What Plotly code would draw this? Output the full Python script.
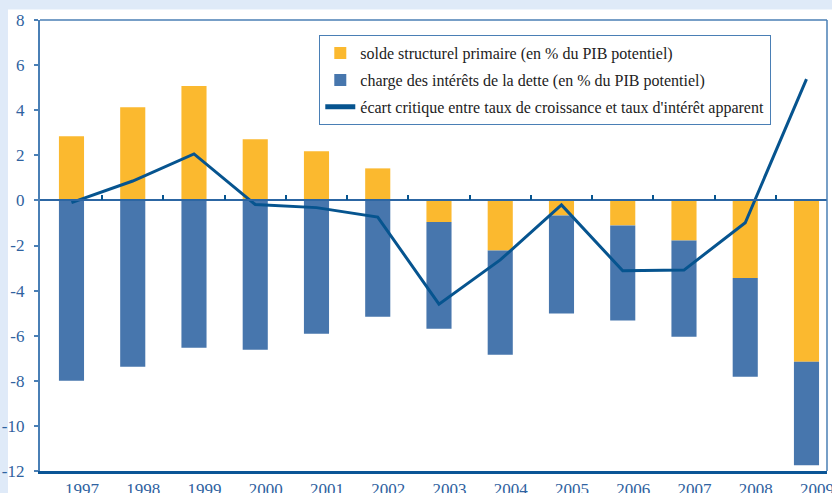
import plotly.graph_objects as go

years = [1997, 1998, 1999, 2000, 2001, 2002, 2003, 2004, 2005, 2006, 2007, 2008, 2009]
solde_structurel = [2.84, 4.13, 5.07, 2.71, 2.18, 1.42, -0.96, -2.22, -0.67, -1.11, -1.78, -3.44, -7.16]
charge_interets = [-8.00, -7.38, -6.53, -6.62, -5.91, -5.16, -4.73, -4.62, -4.34, -4.22, -4.27, -4.38, -4.58]
ecart_critique = [-0.10, 0.86, 2.06, -0.18, -0.32, -0.74, -4.60, -2.64, -0.20, -3.12, -3.09, -0.99, 5.38]
y_ticks = [-12, -10, -8, -6, -4, -2, 0, 2, 4, 6, 8]

names = [
    "solde structurel primaire (en % du PIB potentiel)",
    "charge des intérêts de la dette (en % du PIB potentiel)",
    "écart critique entre taux de croissance et taux d'intérêt apparent",
]

ORANGE = "#FBB92F"
BLUE = "#4776AD"
LINE = "#06548F"
AXIS = "#4A7FB5"
TEXT = "#2F62A0"
FONT = "Liberation Serif"

fig = go.Figure()
fig.add_trace(go.Bar(x=years, y=solde_structurel, name=names[0], marker_color=ORANGE,
                     marker_line_width=0, width=0.41, legendgroup="a"))
fig.add_trace(go.Bar(x=years, y=charge_interets, name=names[1], marker_color=BLUE,
                     marker_line_width=0, width=0.41, legendgroup="b"))
fig.add_trace(go.Scatter(x=years, y=ecart_critique, name=names[2], mode="lines",
                         line=dict(color=LINE, width=3), xaxis="x2", legendgroup="c"))

xr = [1996.486, 2009.335]
boundaries = [y + 0.5 for y in years[:-1]]
label_shift = 0.17  # year labels sit slightly right of the bar centres in the original

fig.update_layout(
    width=832, height=493,
    margin=dict(l=40, r=5, t=20, b=22, autoexpand=False),
    barmode="relative",
    bargap=0.59,
    paper_bgcolor="#DFEAF8",
    plot_bgcolor="white",
    font=dict(family=FONT, color=TEXT, size=17),
    showlegend=True,
    legend=dict(
        x=0.3545, y=0.967, xanchor="left", yanchor="top",
        bgcolor="white", bordercolor=AXIS, borderwidth=1.3,
        font=dict(family=FONT, size=16, color="#222222"),
        traceorder="grouped", tracegroupgap=3, itemsizing="constant",
    ),
    xaxis=dict(
        range=xr, anchor="free", position=0.6, automargin=False,
        tickvals=boundaries, showticklabels=False,
        ticks="inside", ticklen=5, tickcolor=LINE, tickwidth=2,
        showline=True, linecolor="#2C66A3", linewidth=1.5,
        showgrid=False, zeroline=False,
    ),
    xaxis2=dict(
        range=xr, overlaying="x", side="bottom", anchor="y", automargin=False,
        tickvals=[y + label_shift for y in years], ticktext=[str(y) for y in years],
        ticks="", showline=True, linecolor="#0B5596", linewidth=2.5,
        mirror=False, showgrid=False, zeroline=False,
        tickfont=dict(family=FONT, size=17, color=TEXT),
        ticklabelstandoff=1, ticklabeloverflow="allow",
    ),
    yaxis=dict(
        range=[-12, 8], tickvals=y_ticks, ticktext=[str(v) for v in y_ticks],
        ticks="outside", ticklen=4, tickcolor=AXIS, tickwidth=2, automargin=False,
        showline=True, linecolor=AXIS, linewidth=2.2, mirror=False,
        showgrid=False, zeroline=False,
        tickfont=dict(family=FONT, size=17, color=TEXT),
        ticklabelstandoff=6,
    ),
    shapes=[
        dict(type="rect", xref="paper", yref="paper", x0=-0.0407, x1=1.02, y0=-0.06, y1=1.0233,
             fillcolor="white", line_width=0, layer="below"),
        dict(type="line", xref="paper", yref="paper", x0=0, x1=1, y0=1, y1=1,
             line=dict(color=AXIS, width=1.5)),
        dict(type="line", xref="paper", yref="paper", x0=1, x1=1, y0=0, y1=1,
             line=dict(color=AXIS, width=1.5)),
    ],
)

fig.write_html("out.html", config={"displayModeBar": False},
               post_script="document.body.style.margin='0';document.body.style.overflow='hidden';")
